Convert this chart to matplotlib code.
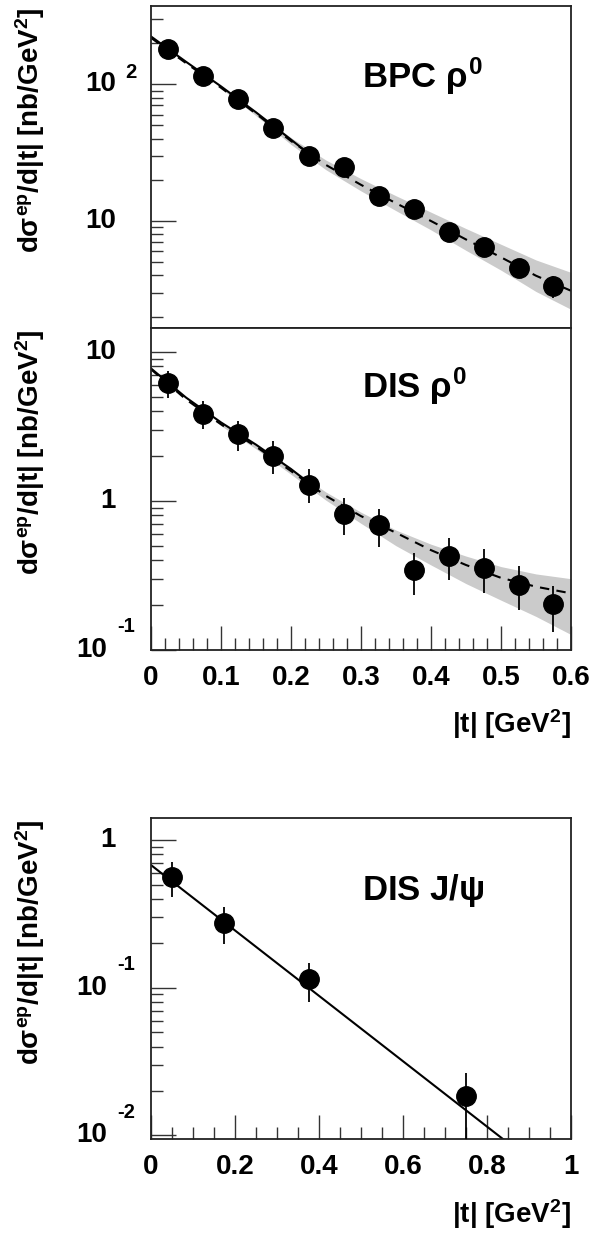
import matplotlib
matplotlib.use('Agg')
import matplotlib.pyplot as plt
from matplotlib.ticker import LogLocator, MultipleLocator, NullFormatter
from matplotlib.transforms import offset_copy

plt.rcParams['font.family'] = ['Liberation Sans', 'DejaVu Sans']
plt.rcParams['font.weight'] = 'bold'
plt.rcParams['mathtext.fontset'] = 'custom'
plt.rcParams['mathtext.rm'] = 'Liberation Sans:bold'
plt.rcParams['mathtext.bf'] = 'Liberation Sans:bold'
plt.rcParams['mathtext.it'] = 'Liberation Sans'
plt.rcParams['mathtext.sf'] = 'Liberation Sans:bold'

# ---------------- data ----------------
# BPC rho0
bpc_t = [0.025, 0.075, 0.125, 0.175, 0.225, 0.275, 0.325, 0.375, 0.425, 0.475, 0.525, 0.575]
bpc_y = [180, 115, 77.6, 48.2, 29.9, 24.7, 15.2, 12.2, 8.35, 6.42, 4.56, 3.34]
bpc_err = [8, 5, 3.5, 2.5, 1.8, 1.6, 1.1, 1.0, 0.8, 0.7, 0.6, 0.6]
bpc_fit_t = [0.0, 0.05, 0.1, 0.15, 0.2, 0.25, 0.3, 0.35, 0.4, 0.45, 0.5, 0.55, 0.6]
bpc_fit_y = [218.8, 142.9, 94.4, 61.0, 38.5, 25.7, 18.4, 13.5, 10.0, 7.33, 5.43, 3.98, 3.09]
bpc_solid_t = [0.0, 0.05, 0.1, 0.15, 0.2, 0.22]
bpc_solid_y = [223.9, 146.2, 96.6, 62.4, 39.4, 32.7]
bpc_band_t = [0.1, 0.15, 0.2, 0.25, 0.3, 0.35, 0.4, 0.45, 0.5, 0.55, 0.6]
bpc_band_hi = [95.5, 63.1, 40.7, 27.9, 20.4, 15.3, 11.6, 8.81, 6.76, 5.19, 4.21]
bpc_band_lo = [93.3, 59.0, 36.3, 23.7, 16.6, 11.9, 8.61, 6.10, 4.37, 3.05, 2.26]

# DIS rho0
dis_t = [0.025, 0.075, 0.125, 0.175, 0.225, 0.275, 0.325, 0.375, 0.425, 0.475, 0.525, 0.575]
dis_y = [6.15, 3.82, 2.80, 2.02, 1.29, 0.814, 0.687, 0.342, 0.430, 0.357, 0.273, 0.203]
dis_hi = [7.45, 4.69, 3.44, 2.53, 1.63, 1.04, 0.879, 0.448, 0.563, 0.474, 0.365, 0.269]
dis_lo = [4.95, 3.03, 2.17, 1.53, 0.975, 0.589, 0.494, 0.235, 0.297, 0.242, 0.187, 0.132]
dis_fit_t = [0.0, 0.05, 0.1, 0.15, 0.2, 0.25, 0.3, 0.35, 0.4, 0.45, 0.5, 0.55, 0.6]
dis_fit_y = [7.66, 4.81, 3.27, 2.32, 1.59, 1.081, 0.792, 0.612, 0.468, 0.372, 0.305, 0.266, 0.240]
dis_solid_t = [0.0, 0.05, 0.1, 0.15, 0.2, 0.225]
dis_solid_y = [7.76, 4.95, 3.37, 2.39, 1.64, 1.33]
dis_band_t = [0.1, 0.15, 0.2, 0.25, 0.3, 0.35, 0.4, 0.45, 0.5, 0.55, 0.6]
dis_band_hi = [3.35, 2.40, 1.66, 1.148, 0.841, 0.638, 0.513, 0.427, 0.363, 0.324, 0.301]
dis_band_lo = [3.20, 2.24, 1.51, 1.012, 0.708, 0.501, 0.372, 0.279, 0.216, 0.168, 0.127]

# DIS J/psi
jpsi_t = [0.05, 0.175, 0.375, 0.75]
jpsi_y = [0.559, 0.275, 0.1146, 0.0186]
jpsi_hi = [0.713, 0.354, 0.148, 0.0266]
jpsi_lo = [0.409, 0.198, 0.0796, 0.008]
jpsi_fit_t = [0.0, 1.0]
jpsi_fit_y = [0.677, 0.00414]

# ---------------- figure ----------------
W, H = 593, 1240
fig = plt.figure(figsize=(W / 100, H / 100), dpi=100)

L, R = 151, 571
def axes_px(top, bottom):
    return fig.add_axes([L / W, 1 - bottom / H, (R - L) / W, (bottom - top) / H])

ax1 = axes_px(6, 328)
ax2 = axes_px(328, 650)
ax3 = axes_px(818, 1139)

BAND = '#cbcbcb'
FS_TICK = 20
FS_EXP = 14.5
FS_LAB = 20
FS_TITLE = 25

def style(ax, xlim, ylim, xmaj, xmin, show_x=True):
    ax.set_yscale('log')
    ax.set_xlim(*xlim)
    ax.set_ylim(*ylim)
    for s in ax.spines.values():
        s.set_linewidth(1.3)
        s.set_color('#222222')
    ax.yaxis.set_major_locator(LogLocator(base=10, numticks=20))
    ax.yaxis.set_minor_locator(LogLocator(base=10, subs=range(2, 10), numticks=20))
    ax.yaxis.set_major_formatter(NullFormatter())
    ax.yaxis.set_minor_formatter(NullFormatter())
    ax.tick_params(axis='y', which='major', direction='in', length=18, width=1.0,
                   color='#333333', left=True, right=False)
    ax.tick_params(axis='y', which='minor', direction='in', length=8.5, width=1.0,
                   color='#333333', left=True, right=False)
    if show_x:
        ax.xaxis.set_major_locator(MultipleLocator(xmaj))
        ax.xaxis.set_minor_locator(MultipleLocator(xmin))
        ax.tick_params(axis='x', which='major', direction='in', length=17, width=1.0,
                       color='#333333', pad=11, labelsize=FS_TICK, top=False)
        ax.tick_params(axis='x', which='minor', direction='in', length=8.5, width=1.0,
                       color='#333333', top=False)
    else:
        ax.tick_params(axis='x', which='both', bottom=False, top=False,
                       labelbottom=False)

style(ax1, (0, 0.6), (1.65, 374), 0.1, 0.02, show_x=False)
style(ax2, (0, 0.6), (0.1, 14.5), 0.1, 0.02)
style(ax3, (0, 1.0), (0.00946, 1.41), 0.2, 0.05)

ax2.xaxis.set_major_formatter(plt.FuncFormatter(lambda v, p: '0' if abs(v) < 1e-9 else f'{v:.1f}'))
ax3.xaxis.set_major_formatter(plt.FuncFormatter(
    lambda v, p: '0' if abs(v) < 1e-9 else ('1' if abs(v - 1) < 1e-9 else f'{v:.1f}')))

# ---------------- drawing ----------------
def draw_panel(ax, t, y, lo, hi, fit_t=None, fit_y=None, solid_t=None, solid_y=None,
               band_t=None, band_lo=None, band_hi=None, fit_dashed=True):
    if band_t is not None:
        ax.fill_between(band_t, band_lo, band_hi, color=BAND, lw=0, zorder=1)
    if fit_t is not None:
        if fit_dashed:
            ax.plot(fit_t, fit_y, color='k', lw=1.5, dashes=(4.5, 3.5), zorder=2)
        else:
            ax.plot(fit_t, fit_y, color='k', lw=1.5, zorder=2)
    if solid_t is not None:
        ax.plot(solid_t, solid_y, color='k', lw=1.5, zorder=2)
    yerr = [[yy - l for yy, l in zip(y, lo)], [h - yy for yy, h in zip(y, hi)]]
    ax.errorbar(t, y, yerr=yerr, fmt='o', ms=14, color='k', ecolor='k',
                elinewidth=1.3, capsize=0, zorder=3)

draw_panel(ax1, bpc_t, bpc_y,
           [v - e for v, e in zip(bpc_y, bpc_err)], [v + e for v, e in zip(bpc_y, bpc_err)],
           bpc_fit_t, bpc_fit_y, bpc_solid_t, bpc_solid_y,
           bpc_band_t, bpc_band_lo, bpc_band_hi)
draw_panel(ax2, dis_t, dis_y, dis_lo, dis_hi,
           dis_fit_t, dis_fit_y, dis_solid_t, dis_solid_y,
           dis_band_t, dis_band_lo, dis_band_hi)
draw_panel(ax3, jpsi_t, jpsi_y, jpsi_lo, jpsi_hi,
           jpsi_fit_t, jpsi_fit_y, fit_dashed=False)

# ---------------- y tick labels (ROOT style) ----------------
def xfrac(px):
    return (px - L) / (R - L)

def ylab(ax, val, main, exp=None, dy=23, main_right=116, exp_left=117):
    tr = ax.get_yaxis_transform()
    ax.text(xfrac(main_right), val, main, transform=tr, ha='right', va='center',
            fontsize=FS_TICK, clip_on=False)
    if exp is not None:
        tr2 = offset_copy(tr, fig=fig, x=0, y=dy, units='dots')
        ax.text(xfrac(exp_left), val, exp, transform=tr2, ha='left', va='center',
                fontsize=FS_EXP, clip_on=False)

ylab(ax1, 100, '10', '2', dy=12, main_right=116, exp_left=125)
ylab(ax1, 10, '10')
ylab(ax2, 10, '10')
ylab(ax2, 1, '1')
ylab(ax2, 0.1, '10', '-1', dy=23, main_right=107)
ylab(ax3, 1, '1')
ylab(ax3, 0.1, '10', '-1', dy=23, main_right=107)
ylab(ax3, 0.01, '10', '-2', dy=23, main_right=107)

# ---------------- axis titles ----------------
ylabel = r'd$\sigma^{\mathbf{ep}}$/d|t| [nb/GeV$^{2}$]'
for top in (6, 328, 818):
    fig.text(30 / W, 1 - (top + 1) / H, ylabel, rotation=90, ha='center', va='top',
             fontsize=FS_LAB)

xlabel = r'|t| [GeV$^{2}$]'
ax2.text(1.0, (650 - 724) / 322, xlabel, transform=ax2.transAxes, ha='right',
         va='center', fontsize=FS_LAB, clip_on=False)
ax3.text(1.0, (1139 - 1214) / 321, xlabel, transform=ax3.transAxes, ha='right',
         va='center', fontsize=FS_LAB, clip_on=False)

# ---------------- panel titles ----------------
tx = xfrac(362)
ax1.text(tx, (328 - 88) / 322, r'BPC $\rho^{0}$', transform=ax1.transAxes,
         ha='left', va='baseline', fontsize=FS_TITLE)
ax2.text(tx, (650 - 398) / 322, r'DIS $\rho^{0}$', transform=ax2.transAxes,
         ha='left', va='baseline', fontsize=FS_TITLE)
ax3.text(tx, (1139 - 900) / 321, r'DIS J/$\psi$', transform=ax3.transAxes,
         ha='left', va='baseline', fontsize=FS_TITLE)

fig.savefig('out.png', dpi=100)
